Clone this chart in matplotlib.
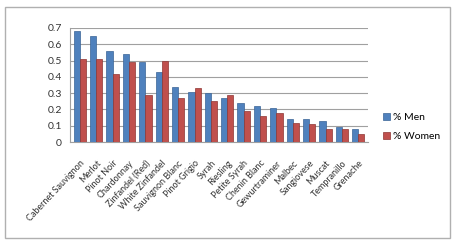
import numpy as np
import matplotlib.pyplot as plt
from matplotlib.patches import Rectangle

wines = ["Cabernet Sauvignon", "Merlot", "Pinot Noir", "Chardonnay",
         "Zinfandel (Red)", "White Zinfandel", "Sauvignon Blanc", "Pinot Grigio",
         "Syrah", "Riesling", "Petite Syrah", "Chenin Blanc", "Gewurtraminer",
         "Malbec", "Sangiovese", "Muscat", "Tempranillo", "Grenache"]
men = [0.68, 0.65, 0.56, 0.54, 0.49, 0.43, 0.34, 0.31, 0.30, 0.27,
       0.24, 0.22, 0.21, 0.14, 0.14, 0.13, 0.09, 0.08]
women = [0.51, 0.51, 0.42, 0.49, 0.29, 0.50, 0.27, 0.33, 0.25, 0.29,
         0.19, 0.16, 0.18, 0.12, 0.11, 0.08, 0.08, 0.05]
yticks = [0, 0.1, 0.2, 0.3, 0.4, 0.5, 0.6, 0.7]

plt.rcParams['font.family'] = ['Lato', 'DejaVu Sans']

fig = plt.figure(figsize=(4.55, 2.45), dpi=100)
fig.patches.append(Rectangle((0.011, 0.03), 0.978, 0.94, transform=fig.transFigure,
                             fill=False, edgecolor='#b0b0b0', linewidth=1))
ax = fig.add_axes([0.154, 0.42, 0.655, 0.466])

x = np.arange(len(wines))
w = 0.38
ax.bar(x - w / 2, men, w, color='#4f81bd', edgecolor='#3a6496', linewidth=0.5,
       label='% Men', zorder=3)
ax.bar(x + w / 2, women, w, color='#c0504d', edgecolor='#8e3533', linewidth=0.5,
       label='% Women', zorder=3)

ax.set_ylim(0, 0.7)
ax.set_xlim(-0.6, len(wines) - 0.4)
ax.set_yticks(yticks)
ax.set_yticklabels([f'{v:g}' for v in yticks], fontsize=7.5, color='#333333')
ax.yaxis.grid(True, color='#a0a0a0', linewidth=0.8, zorder=0)
ax.tick_params(axis='y', length=0, pad=6)
ax.tick_params(axis='x', length=0, pad=12)
ax.set_xticks(x)
ax.set_xticklabels(wines, rotation=47, ha='right', rotation_mode='anchor',
                   fontsize=6.5, color='#333333')
for s in ['top', 'right']:
    ax.spines[s].set_visible(False)
ax.spines['left'].set_color('#a0a0a0')
ax.spines['bottom'].set_color('#a0a0a0')

ax.legend(loc='center left', bbox_to_anchor=(1.02, 0.13), frameon=False,
          fontsize=7.5, handlelength=0.6, handleheight=0.6, handletextpad=0.3,
          labelspacing=1.0)

fig.savefig('out.png', dpi=100)
